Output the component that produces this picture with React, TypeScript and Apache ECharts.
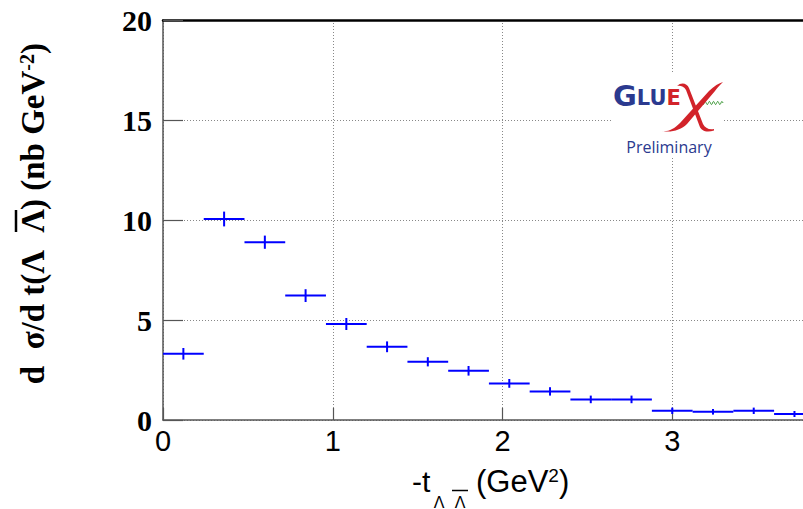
import React, { useEffect, useRef } from 'react';
import * as echarts from 'echarts';

// -t bin edges (GeV^2)
const binEdges = [0, 0.24, 0.48, 0.72, 0.96, 1.2, 1.44, 1.68, 1.92, 2.16, 2.4, 2.64, 2.88, 3.12, 3.36, 3.6, 3.84];
// dσ/dt (nb GeV^-2)
const xsec = [3.31, 10.05, 8.89, 6.22, 4.8, 3.66, 2.91, 2.46, 1.83, 1.43, 1.03, 1.03, 0.46, 0.41, 0.46, 0.3];
const xsecErr = [0.29, 0.37, 0.33, 0.32, 0.3, 0.27, 0.23, 0.24, 0.22, 0.21, 0.19, 0.19, 0.16, 0.14, 0.16, 0.15];
const xTickLabels = ['0', '1', '2', '3'];
const yTickLabels = ['0', '5', '10', '15', '20'];

const BLUE = '#0000ff';
const LOGO_BLUE = '#2b3a8f';
const LOGO_RED = '#d2232a';

// swash "X" of the GlueX logo (61 x 50 box)
const LOGO_X_PATH =
  'M 0 49 C 6 50 12 47 18 41 L 47 9 C 52 4 57 1 61 0 C 58 3 55 6 53 9 L 25 42 C 19 48 9 51 0 49 Z ' +
  'M 15 4 C 19 0 25 1 27 6 L 41 42 C 43 46 47 48 52 47 L 52 48.5 C 45 51 39 49 37.5 44 L 24 8 C 22 4 18 3.5 15 4 Z';

let registered = false;

export default function App() {
  const ref = useRef<HTMLDivElement>(null);
  useEffect(() => {
    document.body.style.margin = '0';
    if (!registered) {
      echarts.graphic.registerShape('gluexX', (echarts.graphic as any).extendPath(LOGO_X_PATH, {}));
      registered = true;
    }
    const chart = echarts.init(ref.current!, null, { renderer: 'svg' });
    const data = xsec.map((v, i) => [binEdges[i], binEdges[i + 1], v, xsecErr[i]]);

    const wave: number[][] = [];
    for (let i = 0; i <= 42; i++) {
      const x = 702 + i * 0.5;
      wave.push([x, 103 + 1.6 * Math.sin((i / 42) * Math.PI * 10)]);
    }

    const serif = '"Liberation Serif", "Times New Roman", serif';
    const sans = '"Liberation Sans", Arial, sans-serif';
    const logoSans = '"DejaVu Sans", sans-serif';

    const option: any = {
      animation: false,
      backgroundColor: '#ffffff',
      grid: { left: 163, top: 20, right: 0, bottom: 89, containLabel: false, outerBoundsMode: 'none' },
      xAxis: [
        {
          type: 'value',
          min: 0,
          max: 4,
          interval: 1,
          axisLine: { show: true, onZero: false, lineStyle: { color: '#555', width: 1.5 } },
          axisTick: { show: true, inside: true, length: 12, lineStyle: { color: '#555', width: 1.2 } },
          axisLabel: {
            color: '#000',
            fontFamily: sans,
            fontSize: 29,
            margin: 6,
            formatter: (v: number) => xTickLabels[v] ?? '',
          },
          splitLine: { show: true, lineStyle: { color: '#888', type: [1, 2], width: 1 } },
        },
        {
          type: 'value',
          position: 'top',
          min: 0,
          max: 4,
          interval: 1,
          axisLine: { show: true, onZero: false, lineStyle: { color: '#000', width: 2.5 } },
          axisTick: { show: false },
          axisLabel: { show: false },
          splitLine: { show: false },
        },
      ],
      yAxis: {
        type: 'value',
        min: 0,
        max: 20,
        interval: 5,
        axisLine: { show: true, onZero: false, lineStyle: { color: '#555', width: 1.5 } },
        axisTick: { show: true, inside: true, length: 20, lineStyle: { color: '#555', width: 1.2 } },
        axisLabel: {
          color: '#000',
          fontFamily: serif,
          fontWeight: 'bold',
          fontSize: 30,
          margin: 11,
          formatter: (v: number) => yTickLabels[v / 5] ?? '',
        },
        splitLine: { show: true, lineStyle: { color: '#888', type: [1, 2], width: 1 } },
      },
      series: [
        {
          type: 'custom',
          xAxisIndex: 0,
          yAxisIndex: 0,
          data,
          encode: { x: [0, 1], y: [2] },
          renderItem: (params: any, api: any) => {
            const lo = api.value(0);
            const hi = api.value(1);
            const y = api.value(2);
            const e = api.value(3);
            const xc = (lo + hi) / 2;
            const pL = api.coord([lo, y]);
            const pR = api.coord([hi, y]);
            const pT = api.coord([xc, y + e]);
            const pB = api.coord([xc, y - e]);
            return {
              type: 'group',
              children: [
                { type: 'line', shape: { x1: pL[0], y1: pL[1], x2: pR[0], y2: pR[1] }, style: { stroke: BLUE, lineWidth: 2 } },
                { type: 'line', shape: { x1: pT[0], y1: pT[1], x2: pB[0], y2: pB[1] }, style: { stroke: BLUE, lineWidth: 2 } },
              ],
            };
          },
        },
      ],
      graphic: [
        // x axis title
        {
          type: 'text', x: 412, y: 481, z: 100,
          style: { text: '-t', fontFamily: sans, fontSize: 30, fill: '#000', align: 'left', verticalAlign: 'middle', textAlign: 'left', textVerticalAlign: 'middle' },
        },
        {
          type: 'text', x: 439, y: 502, z: 100,
          style: { text: 'Λ', fontFamily: sans, fontSize: 16, fill: '#000', align: 'center', verticalAlign: 'middle', textAlign: 'center', textVerticalAlign: 'middle' },
        },
        {
          type: 'text', x: 460, y: 502, z: 100,
          style: { text: 'Λ', fontFamily: sans, fontSize: 16, fill: '#000', align: 'center', verticalAlign: 'middle', textAlign: 'center', textVerticalAlign: 'middle' },
        },
        { type: 'line', z: 100, shape: { x1: 452, y1: 490.5, x2: 468, y2: 490.5 }, style: { stroke: '#000', lineWidth: 1.5 } },
        {
          type: 'text', x: 476, y: 481, z: 100,
          style: {
            text: '(GeV{sup|2})', fontFamily: sans, fontSize: 31, fill: '#000',
            align: 'left', verticalAlign: 'middle', textAlign: 'left', textVerticalAlign: 'middle',
            rich: { sup: { fontFamily: sans, fontSize: 19, verticalAlign: 'top', fill: '#000' } },
          },
        },
        // y axis title (rotated)
        {
          type: 'group', x: 33, y: 221, rotation: Math.PI / 2, z: 100,
          children: [
            {
              type: 'text', x: -29, y: 0, z: 100,
              style: { text: 'd  σ/d t(Λ', fontFamily: serif, fontWeight: 'bold', fontSize: 33, fill: '#000', align: 'right', verticalAlign: 'middle', textAlign: 'right', textVerticalAlign: 'middle' },
            },
            {
              type: 'text', x: 0, y: 0, z: 100,
              style: { text: 'Λ', fontFamily: serif, fontWeight: 'bold', fontSize: 33, fill: '#000', align: 'center', verticalAlign: 'middle', textAlign: 'center', textVerticalAlign: 'middle' },
            },
            { type: 'line', z: 100, shape: { x1: -11, y1: -17, x2: 11, y2: -17 }, style: { stroke: '#000', lineWidth: 2.5 } },
            {
              type: 'text', x: 11, y: 0, z: 100,
              style: {
                text: ') (nb GeV{sup|-2})', fontFamily: serif, fontWeight: 'bold', fontSize: 33, fill: '#000',
                align: 'left', verticalAlign: 'middle', textAlign: 'left', textVerticalAlign: 'middle',
                rich: { sup: { fontFamily: serif, fontWeight: 'bold', fontSize: 20, verticalAlign: 'top', fill: '#000' } },
              },
            },
          ],
        },
        // GlueX logo
        { type: 'rect', z: 100, shape: { x: 613, y: 73, width: 111, height: 85 }, style: { fill: '#fff' } },
        { type: 'polyline', z: 101, shape: { points: wave }, style: { stroke: '#3f9a3a', lineWidth: 1, fill: 'none' } },
        {
          type: 'text', x: 613, y: 73, z: 102,
          style: {
            text: '{g|G}{lu|LU}{e|E}',
            align: 'left', verticalAlign: 'top', textAlign: 'left', textVerticalAlign: 'top',
            rich: {
              g: { fontFamily: logoSans, fontWeight: 'bold', fontSize: 29, lineHeight: 50, fill: LOGO_BLUE, padding: [0, 0, 10, 0] },
              lu: { fontFamily: logoSans, fontWeight: 'bold', fontSize: 21, lineHeight: 55, fill: LOGO_BLUE, padding: [0, 0, 5, 0] },
              e: { fontFamily: logoSans, fontWeight: 'bold', fontSize: 21, lineHeight: 55, fill: LOGO_RED, padding: [0, 0, 5, 0] },
            },
          },
        },
        { type: 'gluexX', x: 662, y: 82, z: 103, style: { fill: LOGO_RED, stroke: 'none' } },
        {
          type: 'text', x: 669, y: 147, z: 102,
          style: { text: 'Preliminary', fontFamily: '"Open Sans", sans-serif', fontSize: 16, fill: LOGO_BLUE, align: 'center', verticalAlign: 'middle', textAlign: 'center', textVerticalAlign: 'middle' },
        },
      ],
    };
    chart.setOption(option);
    return () => chart.dispose();
  }, []);
  return (
    <div style={{ width: 803, height: 509, position: 'absolute', left: 0, top: 0, overflow: 'hidden' }}>
      <div ref={ref} style={{ width: 842, height: 509 }} />
    </div>
  );
}
